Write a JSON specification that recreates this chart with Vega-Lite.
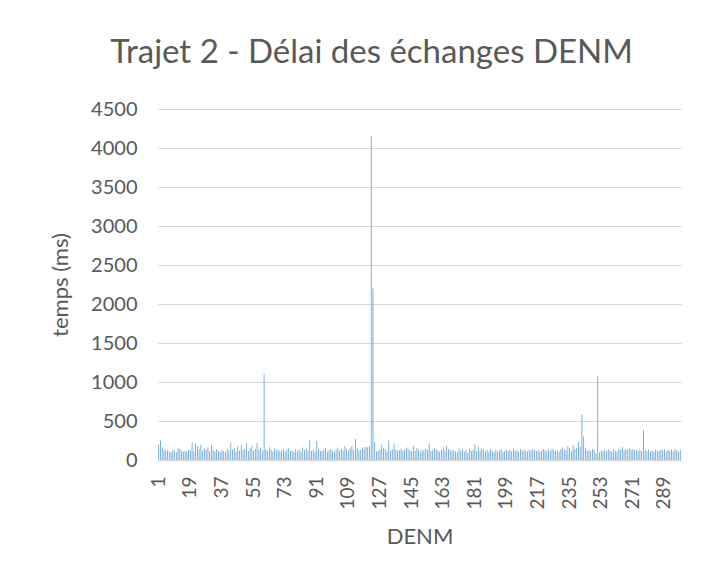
{
  "$schema": "https://vega.github.io/schema/vega-lite/v6.json",
  "width": 523,
  "height": 351,
  "autosize": {"type": "none"},
  "padding": {"left": 158, "top": 109, "right": 35, "bottom": 123},
  "background": "white",
  "title": {"text": "Trajet 2 - Délai des échanges DENM", "font": "Lato", "fontSize": 33, "fontWeight": "normal", "color": "#595959", "anchor": "middle", "dx": -48, "offset": 29},
  "data": {"values": [
    {"d":1,"t":200},{"d":2,"t":250},{"d":3,"t":160},{"d":4,"t":130},{"d":5,"t":120},{"d":6,"t":125},{"d":7,"t":110},{"d":8,"t":95},{"d":9,"t":130},{"d":10,"t":115},
    {"d":11,"t":100},{"d":12,"t":150},{"d":13,"t":140},{"d":14,"t":120},{"d":15,"t":110},{"d":16,"t":115},{"d":17,"t":105},{"d":18,"t":130},{"d":19,"t":125},{"d":20,"t":230},
    {"d":21,"t":110},{"d":22,"t":215},{"d":23,"t":180},{"d":24,"t":140},{"d":25,"t":200},{"d":26,"t":120},{"d":27,"t":150},{"d":28,"t":130},{"d":29,"t":160},{"d":30,"t":110},
    {"d":31,"t":190},{"d":32,"t":125},{"d":33,"t":110},{"d":34,"t":140},{"d":35,"t":120},{"d":36,"t":105},{"d":37,"t":130},{"d":38,"t":115},{"d":39,"t":100},{"d":40,"t":145},
    {"d":41,"t":120},{"d":42,"t":220},{"d":43,"t":130},{"d":44,"t":150},{"d":45,"t":110},{"d":46,"t":175},{"d":47,"t":120},{"d":48,"t":190},{"d":49,"t":130},{"d":50,"t":145},
    {"d":51,"t":210},{"d":52,"t":115},{"d":53,"t":150},{"d":54,"t":180},{"d":55,"t":120},{"d":56,"t":140},{"d":57,"t":220},{"d":58,"t":130},{"d":59,"t":160},{"d":60,"t":120},
    {"d":61,"t":1100},{"d":62,"t":140},{"d":63,"t":120},{"d":64,"t":165},{"d":65,"t":130},{"d":66,"t":110},{"d":67,"t":150},{"d":68,"t":125},{"d":69,"t":135},{"d":70,"t":115},
    {"d":71,"t":120},{"d":72,"t":140},{"d":73,"t":110},{"d":74,"t":130},{"d":75,"t":150},{"d":76,"t":115},{"d":77,"t":125},{"d":78,"t":105},{"d":79,"t":140},{"d":80,"t":120},
    {"d":81,"t":135},{"d":82,"t":110},{"d":83,"t":160},{"d":84,"t":125},{"d":85,"t":140},{"d":86,"t":115},{"d":87,"t":250},{"d":88,"t":120},{"d":89,"t":130},{"d":90,"t":110},
    {"d":91,"t":245},{"d":92,"t":140},{"d":93,"t":120},{"d":94,"t":115},{"d":95,"t":130},{"d":96,"t":150},{"d":97,"t":110},{"d":98,"t":125},{"d":99,"t":140},{"d":100,"t":120},
    {"d":101,"t":105},{"d":102,"t":130},{"d":103,"t":160},{"d":104,"t":120},{"d":105,"t":145},{"d":106,"t":125},{"d":107,"t":175},{"d":108,"t":140},{"d":109,"t":120},{"d":110,"t":150},
    {"d":111,"t":180},{"d":112,"t":130},{"d":113,"t":270},{"d":114,"t":150},{"d":115,"t":125},{"d":116,"t":130},{"d":117,"t":160},{"d":118,"t":145},{"d":119,"t":170},{"d":120,"t":165},
    {"d":121,"t":175},{"d":122,"t":4150},{"d":123,"t":2200},{"d":124,"t":230},{"d":125,"t":110},{"d":126,"t":120},{"d":127,"t":130},{"d":128,"t":200},{"d":129,"t":150},{"d":130,"t":140},
    {"d":131,"t":110},{"d":132,"t":250},{"d":133,"t":120},{"d":134,"t":135},{"d":135,"t":210},{"d":136,"t":140},{"d":137,"t":120},{"d":138,"t":125},{"d":139,"t":145},{"d":140,"t":115},
    {"d":141,"t":130},{"d":142,"t":160},{"d":143,"t":140},{"d":144,"t":125},{"d":145,"t":115},{"d":146,"t":180},{"d":147,"t":120},{"d":148,"t":150},{"d":149,"t":130},{"d":150,"t":110},
    {"d":151,"t":135},{"d":152,"t":120},{"d":153,"t":145},{"d":154,"t":130},{"d":155,"t":210},{"d":156,"t":115},{"d":157,"t":125},{"d":158,"t":150},{"d":159,"t":140},{"d":160,"t":120},
    {"d":161,"t":105},{"d":162,"t":130},{"d":163,"t":160},{"d":164,"t":120},{"d":165,"t":180},{"d":166,"t":140},{"d":167,"t":125},{"d":168,"t":115},{"d":169,"t":130},{"d":170,"t":110},
    {"d":171,"t":100},{"d":172,"t":145},{"d":173,"t":120},{"d":174,"t":135},{"d":175,"t":110},{"d":176,"t":125},{"d":177,"t":90},{"d":178,"t":140},{"d":179,"t":120},{"d":180,"t":130},
    {"d":181,"t":200},{"d":182,"t":115},{"d":183,"t":170},{"d":184,"t":120},{"d":185,"t":150},{"d":186,"t":135},{"d":187,"t":110},{"d":188,"t":125},{"d":189,"t":105},{"d":190,"t":140},
    {"d":191,"t":120},{"d":192,"t":95},{"d":193,"t":130},{"d":194,"t":110},{"d":195,"t":125},{"d":196,"t":140},{"d":197,"t":105},{"d":198,"t":120},{"d":199,"t":135},{"d":200,"t":115},
    {"d":201,"t":130},{"d":202,"t":110},{"d":203,"t":145},{"d":204,"t":120},{"d":205,"t":125},{"d":206,"t":105},{"d":207,"t":140},{"d":208,"t":115},{"d":209,"t":130},{"d":210,"t":120},
    {"d":211,"t":110},{"d":212,"t":135},{"d":213,"t":120},{"d":214,"t":140},{"d":215,"t":125},{"d":216,"t":115},{"d":217,"t":130},{"d":218,"t":105},{"d":219,"t":120},{"d":220,"t":140},
    {"d":221,"t":125},{"d":222,"t":110},{"d":223,"t":135},{"d":224,"t":120},{"d":225,"t":145},{"d":226,"t":130},{"d":227,"t":115},{"d":228,"t":125},{"d":229,"t":105},{"d":230,"t":140},
    {"d":231,"t":160},{"d":232,"t":130},{"d":233,"t":125},{"d":234,"t":180},{"d":235,"t":150},{"d":236,"t":120},{"d":237,"t":195},{"d":238,"t":140},{"d":239,"t":155},{"d":240,"t":230},
    {"d":241,"t":170},{"d":242,"t":580},{"d":243,"t":300},{"d":244,"t":150},{"d":245,"t":120},{"d":246,"t":130},{"d":247,"t":115},{"d":248,"t":140},{"d":249,"t":125},{"d":250,"t":80},
    {"d":251,"t":1080},{"d":252,"t":100},{"d":253,"t":125},{"d":254,"t":110},{"d":255,"t":130},{"d":256,"t":115},{"d":257,"t":140},{"d":258,"t":120},{"d":259,"t":105},{"d":260,"t":135},
    {"d":261,"t":120},{"d":262,"t":110},{"d":263,"t":145},{"d":264,"t":130},{"d":265,"t":165},{"d":266,"t":125},{"d":267,"t":140},{"d":268,"t":130},{"d":269,"t":150},{"d":270,"t":135},
    {"d":271,"t":140},{"d":272,"t":125},{"d":273,"t":130},{"d":274,"t":120},{"d":275,"t":135},{"d":276,"t":115},{"d":277,"t":385},{"d":278,"t":130},{"d":279,"t":120},{"d":280,"t":140},
    {"d":281,"t":110},{"d":282,"t":125},{"d":283,"t":105},{"d":284,"t":130},{"d":285,"t":120},{"d":286,"t":115},{"d":287,"t":135},{"d":288,"t":125},{"d":289,"t":140},{"d":290,"t":110},
    {"d":291,"t":130},{"d":292,"t":120},{"d":293,"t":135},{"d":294,"t":115},{"d":295,"t":140},{"d":296,"t":125},{"d":297,"t":110},{"d":298,"t":130}
  ]},
  "mark": {"type": "bar", "color": "#5B9BD5"},
  "encoding": {
    "x": {"field": "d", "type": "ordinal", "title": "DENM",
      "scale": {"paddingInner": 0.55, "paddingOuter": 0.2},
      "axis": {"values": [1,19,37,55,73,91,109,127,145,163,181,199,217,235,253,271,289], "labelAngle": -90, "labelFontSize": 19, "ticks": false, "domainColor": "#D9D9D9", "domainWidth": 1.5, "labelPadding": 16, "titlePadding": 17}},
    "y": {"field": "t", "type": "quantitative", "title": "temps (ms)",
      "scale": {"domain": [0, 4500]},
      "axis": {"values": [0,500,1000,1500,2000,2500,3000,3500,4000,4500], "format": "d", "domain": false, "ticks": false, "gridColor": "#D9D9D9", "gridWidth": 1.2, "labelPadding": 21, "titlePadding": 18}}
  },
  "config": {
    "view": {"stroke": null},
    "axis": {"labelFont": "Lato", "labelFontSize": 20, "labelColor": "#595959", "titleFont": "Lato", "titleFontSize": 22, "titleFontWeight": "normal", "titleColor": "#595959"}
  }
}
